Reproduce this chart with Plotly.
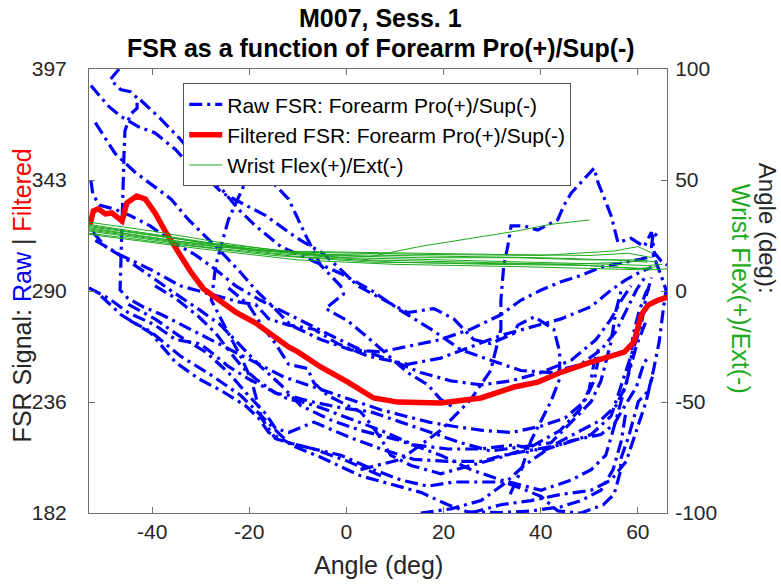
import plotly.graph_objects as go

# ---------------- data ----------------
x_range = [-53, 66]
fsr_range = [182, 397]
ang_range = [-100, 100]
x_ticks = [-40, -20, 0, 20, 40, 60]
x_ticktext = ["-40", "-20", "0", "20", "40", "60"]
fsr_tickvals = [182, 235.75, 289.5, 343.25, 397]
fsr_ticktext = ["182", "236", "290", "343", "397"]
ang_ticks = [-100, -50, 0, 50, 100]
ang_ticktext = ["-100", "-50", "0", "50", "100"]

# Raw FSR passes (angle deg, FSR)
raw_x_01 = [7.1, 0.3, -6.7, -11.9, -14.6, -17.5, -19.5, -21.6, -24.3, -27.8, -26.9, -24.3, -19.5, -18.1, -15.6, -11.9, -8.5, -5.3, -1.2, -0.6, -4.3, 0.3, 4.4, 9.1, 12.6, 16.8, 19.4, 22.1]
raw_y_01 = [200, 207, 213, 216, 218, 228, 246, 257, 269, 285, 302, 324, 349, 349, 343, 334, 317, 302, 292, 288, 281, 275, 267, 257, 250, 244, 237, 233]
raw_x_02 = [2.9, 11.2, 19.4, 25.6, 29.7, 31.8, 31.8, 32.4, 33.2, 33.9, 36.6, 39.4, 43.5, 44.8, 46.3, 48.3, 51.0, 51.8, 54.5, 55.9, 58.6, 61.3, 62.8, 63.4, 64.8, 66.0]
raw_y_02 = [203, 208, 222, 237, 251, 271, 285, 302, 311, 321, 321, 319, 324, 331, 337, 342, 349, 342, 326, 313, 315, 311, 318, 308, 304, 302]
raw_x_03 = [-52.6, -49, -46.4, -42.8, -39.4, -35.2, -32.5, -29, -25.6, -20.8, -16.6, -11.9, -9.4, -5, -1.2, 2.3, 7.1, 12.6, 18, 22.1, 26.2, 27.7, 29.7, 34.5, 35.3, 38.7, 42.7, 43.9, 43.9, 42.1, 40.1, 38, 36, 33.5]
raw_y_03 = [389, 379, 374, 369, 366, 358, 351, 345, 337, 331, 326, 318, 314, 308, 300, 292, 286, 279, 281, 276, 266, 265, 264, 269, 273, 277, 271, 260, 247, 236, 227, 217, 203, 190]
raw_x_04 = [-46.8, -48.6, -46.5, -44.5, -43.1, -43.1, -44.5, -45.1, -45.6, -45.8, -46, -46.2, -46.4, -46.6, -45, -42, -38, -33, -28, -23, -18, -13, -8, -3, 2, 7, 12, 17, 22, 28, 34, 40, 45, 49, 51, 52]
raw_y_04 = [397, 392, 387, 386, 383, 378, 375, 371, 367, 355, 340, 320, 300, 290, 286, 282, 278, 272, 266, 260, 254, 248, 244, 240, 236, 232, 229, 226, 224, 222, 221, 224, 228, 236, 246, 258]
raw_x_05 = [-53, -49, -44.9, -39.4, -35.2, -30.4, -29, -24.3, -20.2, -16, -11.9, -9.4, -5.3, 0.3, 7.1, 13.9, 20.9, 27.7, 34.5, 40.1, 46.3, 52.4, 55.1, 57.6, 59.7, 61.3, 62.5]
raw_y_05 = [291, 286, 279, 273, 266, 264, 262, 253, 247, 242, 237, 236, 233, 228, 222, 215, 213, 213, 215, 212, 217, 220, 225, 235, 243, 255, 258]
raw_x_06 = [-50.5, -46.4, -40.2, -35.2, -30.4, -25.6, -20.8, -18.1, -16, -11.9, -6.7, -1.2, 5.6, 11.2, 16.8, 22.1, 27.7, 32.4, 35.9, 40.1, 43.5, 48.3, 52.9, 55.1, 56.4, 56.6, 58.1, 60.1, 62.1, 63]
raw_y_06 = [287, 278, 269, 255, 247, 241, 234, 228, 221, 216, 213, 210, 203, 198, 195, 197, 197, 197, 194, 190, 183, 182, 186, 191, 202, 209, 219, 236, 241, 248]
raw_x_07 = [-44.9, -39.4, -34.6, -29, -24.3, -20.2, -16.6, -14.6, -11.9, -6.7, 0.3, 7.1, 13.9, 20.9, 27.7, 32.4, 39.4, 44.2, 50.4, 54.5, 56.6, 58.6, 60.7, 61.7, 62.8]
raw_y_07 = [283, 276, 268, 260, 250, 239, 230, 223, 221, 226, 219, 213, 208, 207, 207, 210, 213, 215, 220, 229, 244, 258, 273, 287, 296]
raw_x_08 = [-39.4, -35.2, -30.4, -26.9, -24.3, -21.6, -18.7, -14.6, -11.9, -7.4, -1.2, 5, 11.2, 17.4, 23.6, 29.7, 35.9, 42.1, 46.3, 50.4, 52.4, 53.4, 54.5, 55.5, 56.6]
raw_y_08 = [292, 286, 277, 269, 261, 253, 247, 240, 239, 236, 233, 231, 226, 221, 216, 212, 214, 216, 226, 236, 246, 255, 265, 280, 290]
raw_x_09 = [-24.3, -20.2, -17.5, -14.6, -11.9, -8, -6.7, -3.9, 0.3, 2.9, 5, 7.1, 9.1, 13.3, 19.4, 25.6, 31.8, 38, 44, 48, 50, 51, 52]
raw_y_09 = [291, 283, 273, 264, 254, 252, 245, 239, 234, 231, 225, 218, 210, 205, 201, 205, 209, 214, 222, 232, 242, 255, 262]
raw_x_10 = [-51.7, -46.6, -40.4, -34.2, -28, -21.8, -18.7, -16, -11.9, -6.7, -1.8, 4.4, 12.6, 19.4, 26.2, 31.8, 38, 44.2, 50.4, 54.5, 57.6, 60.7, 62.8]
raw_y_10 = [314, 307, 300, 292, 288, 284, 283, 276, 273, 271, 264, 258, 254, 257, 263, 268, 272, 276, 282, 290, 295, 299, 301]
raw_x_11 = [-51.7, -47.6, -43.5, -39.4, -36.1, -32.5, -29, -25.6, -21.6, -18.7, -15.6, -11.5, -5.3, 0.9, 7.1, 13.3, 19.4, 25.6, 31.8, 35.9, 40.1, 44.2, 48.3, 52.4, 56.6, 60.7, 63.8]
raw_y_11 = [371, 356, 347, 340, 334, 324, 316, 308, 298, 290, 283, 273, 266, 261, 260, 263, 266, 271, 278, 285, 290, 294, 297, 301, 303, 305, 307]
raw_x_12 = [-42.4, -38.3, -34.2, -30, -27.8, -22.2, -18.7, -13.5, -5.9, -1.2, 5, 11.2, 17.4, 23.6, 29.7, 35.9, 42.1, 48.3, 52.4, 55.5, 57.6, 59.7, 61.7]
raw_y_12 = [382, 373, 363, 351, 345, 329, 321, 311, 303, 298, 290, 280, 271, 261, 256, 251, 250, 254, 261, 270, 280, 290, 297]
raw_x_13 = [-52.6, -52.2, -50.7, -47.6, -44.5, -40.4, -36.3, -31.1, -27, -22.8, -17.7, -13.5, -9.4, -3.2, 2.9, 9.1, 15.3, 21.5, 27.7, 33.9, 40.1, 46.3, 51.4, 54.5, 56.6, 58.6]
raw_y_13 = [343, 336, 331, 329, 326, 321, 314, 307, 300, 292, 285, 280, 275, 268, 261, 256, 250, 246, 244, 246, 250, 256, 266, 276, 285, 292]
raw_x_14 = [-52.2, -49.6, -45.4, -40.4, -36.3, -33.2, -30, -25.9, -21.8, -17.7, -13.5, -9.4, -3.2, 2.9, 11.2, 19.4, 25.6, 31.8, 40.1, 46.3, 50.4, 53.4, 54.9, 56.6, 58.2, 59.7, 61.7]
raw_y_14 = [318, 311, 305, 297, 290, 285, 280, 273, 263, 253, 244, 234, 227, 222, 217, 210, 203, 198, 193, 198, 203, 210, 222, 237, 251, 263, 275]
raw_x_15 = [25.6, 31.8, 38, 44.2, 50.4, 54.5, 57.6, 59.7, 61.7, 63.2, 64.4, 65.2, 65.8, 64.8, 63.8, 62.8, 63.2, 64.4]
raw_y_15 = [182, 186, 188, 191, 193, 198, 207, 222, 236, 251, 265, 280, 290, 297, 303, 311, 318, 315]
raw_x_16 = [15.3, 21.5, 27.7, 32.4, 36.6, 42.7, 48.3, 52.4, 55.5, 57.6, 58.6, 59, 60.3, 61.7, 62.8]
raw_y_16 = [182, 184, 188, 196, 205, 215, 222, 227, 234, 244, 256, 268, 280, 289, 292]
raw_x_17 = [-44.5, -40.4, -34.2, -28, -21.8, -16.6, -11.5, -5.3, 2.9, 9.1, 15.3, 20.9, 25, 31.8, 38, 44.2, 48.3, 52.4, 54.9, 56.6, 57.6]
raw_y_17 = [275, 270, 258, 249, 239, 227, 215, 209, 200, 196, 192, 186, 182.5, 182.2, 183, 185, 188, 193, 203, 217, 232]

# Filtered FSR
filt_x = [-52.8, -52.1, -51.1, -49.6, -48.3, -46.2, -45.2, -43.2, -41.4, -39.4, -37.1, -34.6, -31.9, -29.4, -26.9, -22.8, -18.7, -14.6, -11.9, -10.0, -5.3, 0.3, 5.6, 10.6, 19.4, 27.7, 34.5, 39.4, 43.8, 49.7, 57.2, 59.2, 60.7, 62.1, 64.2, 66.2]
filt_y = [321.5, 328.3, 329.3, 326.8, 327.3, 323.4, 332.1, 335.5, 334.0, 327.3, 317.6, 307.9, 298.2, 290.5, 286.1, 279.3, 274.0, 266.7, 262.4, 260.0, 252.7, 245.4, 237.7, 235.7, 235.3, 237.7, 243.0, 245.4, 249.8, 254.6, 259.9, 264.8, 277.9, 282.7, 285.1, 286.6]

# Wrist Flex/Ext (right axis, deg)
wr_x_01 = [-53, -40, -25, -10, 5, 15, 25, 35, 42, 50]
wr_y_01 = [31, 27, 21.5, 17, 15.5, 20, 23.5, 27, 30, 32]
wr_x_02 = [-53, -35, -20, -5, 15, 35, 50, 60, 64]
wr_y_02 = [30, 24, 19, 16, 15, 15, 14, 14, 13]
wr_x_03 = [-53, -35, -20, 0, 20, 40, 55, 62, 65]
wr_y_03 = [29, 23.5, 18.5, 15, 14, 13, 12, 11.5, 12]
wr_x_04 = [-53, -30, -15, 5, 25, 45, 58, 63]
wr_y_04 = [28, 21, 17, 14, 13, 12, 10.5, 10]
wr_x_05 = [-53, -30, -10, 10, 30, 50, 60, 64]
wr_y_05 = [27, 20, 15.5, 13, 12, 11.5, 10, 11]
wr_x_06 = [-53, -35, -15, 5, 25, 45, 58, 62]
wr_y_06 = [26, 21, 16, 13, 12.5, 12, 13, 14]
wr_x_07 = [-53, -30, -10, 10, 35, 55, 62, 66]
wr_y_07 = [25.5, 19, 14, 12, 11, 10, 9.5, 10]
wr_x_08 = [-53, -35, -15, 10, 30, 50, 58, 63]
wr_y_08 = [28.5, 22.5, 18, 17, 16.5, 16, 17, 15]
wr_x_09 = [-53, -30, -5, 20, 40, 55, 62]
wr_y_09 = [27.5, 20.5, 16.5, 15.5, 15, 14, 13]
wr_x_10 = [-53, -30, -10, 15, 40, 55, 60, 63]
wr_y_10 = [29.5, 22, 17.5, 16.5, 16, 18, 20, 17]

raw_sets = [(raw_x_01, raw_y_01), (raw_x_02, raw_y_02), (raw_x_03, raw_y_03), (raw_x_04, raw_y_04),
            (raw_x_05, raw_y_05), (raw_x_06, raw_y_06), (raw_x_07, raw_y_07), (raw_x_08, raw_y_08),
            (raw_x_09, raw_y_09), (raw_x_10, raw_y_10), (raw_x_11, raw_y_11), (raw_x_12, raw_y_12),
            (raw_x_13, raw_y_13), (raw_x_14, raw_y_14), (raw_x_15, raw_y_15), (raw_x_16, raw_y_16),
            (raw_x_17, raw_y_17)]
wrist_sets = [(wr_x_01, wr_y_01), (wr_x_02, wr_y_02), (wr_x_03, wr_y_03), (wr_x_04, wr_y_04),
              (wr_x_05, wr_y_05), (wr_x_06, wr_y_06), (wr_x_07, wr_y_07), (wr_x_08, wr_y_08),
              (wr_x_09, wr_y_09), (wr_x_10, wr_y_10)]

# ---------------- figure ----------------
FONT = "Liberation Sans, Arial, Helvetica, sans-serif"
TXT = "#262626"
AX = "#6e6e6e"
BLUE = "rgb(0,0,255)"
RED = "rgb(255,0,0)"
GREEN = "rgb(30,170,30)"

fig = go.Figure()
for i, (xs, ys) in enumerate(raw_sets):
    fig.add_trace(go.Scatter(x=xs, y=ys, mode="lines", yaxis="y",
                             line=dict(color=BLUE, width=3.2, dash="13px,5px,3px,5px"),
                             name="Raw FSR: Forearm Pro(+)/Sup(-)", legendgroup="raw",
                             showlegend=(i == 0)))
fig.add_trace(go.Scatter(x=filt_x, y=filt_y, mode="lines", yaxis="y",
                         line=dict(color=RED, width=5.5),
                         name="Filtered FSR: Forearm Pro(+)/Sup(-)"))
for i, (xs, ys) in enumerate(wrist_sets):
    fig.add_trace(go.Scatter(x=xs, y=ys, mode="lines", yaxis="y2",
                             line=dict(color=GREEN, width=1),
                             name="Wrist Flex(+)/Ext(-)", legendgroup="wr",
                             showlegend=(i == 0)))

fig.update_layout(
    width=781, height=587, autosize=False,
    margin=dict(l=89, r=114, t=69, b=74, pad=0),
    paper_bgcolor="white", plot_bgcolor="white",
    font=dict(family=FONT, color=TXT, size=20),
    xaxis=dict(range=x_range, tickvals=x_ticks, ticktext=x_ticktext, ticks="inside",
               ticklen=6, tickcolor=AX, showline=True, linecolor=AX, linewidth=1,
               mirror="ticks", showgrid=False, zeroline=False,
               tickfont=dict(size=21, color=TXT)),
    yaxis=dict(range=fsr_range, tickvals=fsr_tickvals, ticktext=fsr_ticktext,
               ticks="inside", ticklen=6, tickcolor=AX, showline=True, linecolor=AX,
               linewidth=1, showgrid=False, zeroline=False, ticklabelstandoff=17,
               tickfont=dict(size=21, color=TXT)),
    yaxis2=dict(range=ang_range, tickvals=ang_ticks, ticktext=ang_ticktext,
                overlaying="y", side="right",
                ticks="inside", ticklen=6, tickcolor=AX, showline=True, linecolor=AX,
                linewidth=1, showgrid=False, zeroline=False, ticklabelstandoff=3,
                tickfont=dict(size=21, color=TXT)),
    legend=dict(x=0.163, y=0.968, xanchor="left", yanchor="top", bgcolor="white",
                bordercolor="#555555", borderwidth=1, font=dict(size=21, color="black"),
                itemwidth=33, tracegroupgap=0),
    showlegend=True,
)

ann = [
    dict(text="<b>M007, Sess. 1</b>", x=0.505, y=1.115, font=dict(size=25, color="black")),
    dict(text="<b>FSR as a function of Forearm Pro(+)/Sup(-)</b>", x=0.505, y=1.047,
         font=dict(size=25, color="black")),
    dict(text="Angle (deg)", x=0.5, y=-0.117, font=dict(size=25, color=TXT)),
    dict(text="FSR Signal: <span style='color:blue'>Raw</span> | <span style='color:red'>Filtered</span>",
         x=-0.116, y=0.49, textangle=-90, font=dict(size=25, color=TXT)),
    dict(text="Angle (deg):", x=1.173, y=0.64, textangle=90, font=dict(size=24, color=TXT)),
    dict(text="Wrist Flex(+)/Ext(-)", x=1.128, y=0.505, textangle=90,
         font=dict(size=25, color="rgb(30,170,30)")),
]
for a in ann:
    a.update(xref="paper", yref="paper", showarrow=False, xanchor="center", yanchor="middle")
    fig.add_annotation(**a)

fig.write_html("out.html")
